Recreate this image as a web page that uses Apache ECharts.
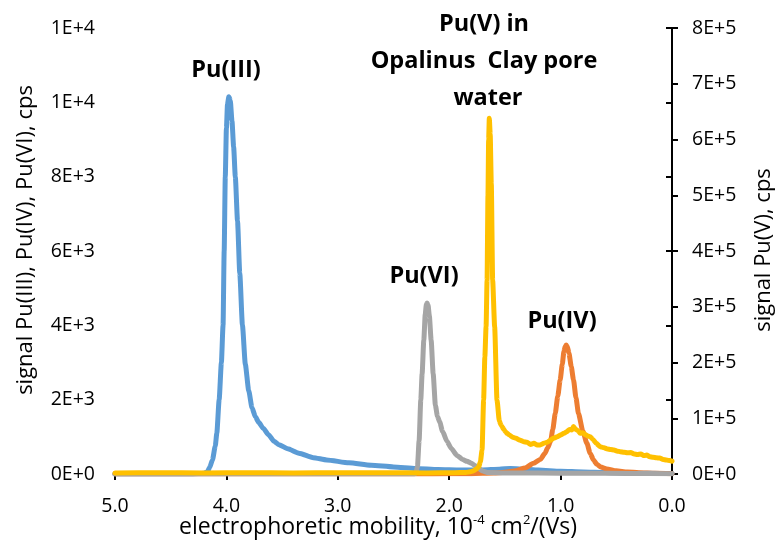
<!DOCTYPE html>
<html>
<head>
<meta charset="utf-8">
<script src="https://cdn.jsdelivr.net/npm/echarts@6/dist/echarts.min.js"></script>
<style>
  html, body { margin: 0; padding: 0; background: #fff; }
  #chart { width: 779px; height: 545px; }
</style>
</head>
<body>
<div id="chart"></div>
<script>
// electrophoretic mobility (10^-4 cm2/(Vs)) and signal (cps) per species
let mobIII = [5.0, 4.5, 4.3, 4.2, 4.17, 4.15, 4.125, 4.1, 4.086, 4.065, 4.045, 4.03, 4.02, 4.01, 4.0, 3.99, 3.978, 3.965, 3.95, 3.935,
    3.92, 3.9, 3.88, 3.856, 3.83, 3.8, 3.77, 3.74, 3.71, 3.67, 3.62, 3.573, 3.53, 3.45, 3.35, 3.22, 3.1, 2.9, 2.7, 2.5,
    2.3, 2.1, 1.9, 1.7, 1.55, 1.45, 1.35, 1.2, 1.0, 0.8, 0.6, 0.4, 0.2, 0.0];
let sigIII = [0, 0, 0, 20, 60, 180, 380, 750, 1100, 2000, 3000, 4000, 6000, 8000, 9300, 9950, 10150, 10050, 9500, 8800,
    8000, 6800, 5400, 4000, 2950, 2250, 1780, 1540, 1390, 1230, 1050, 880, 790, 680, 560, 440, 380, 300, 235, 190,
    150, 120, 105, 110, 130, 150, 135, 105, 75, 55, 40, 28, 18, 12];

let mobIV = [5.0, 2.3, 2.0, 1.8, 1.6, 1.5, 1.4, 1.32, 1.243, 1.18, 1.14, 1.117, 1.09, 1.07, 1.048, 1.025, 1.004, 0.985, 0.97, 0.958,
    0.95, 0.94, 0.925, 0.905, 0.884, 0.862, 0.84, 0.80, 0.764, 0.735, 0.705, 0.675, 0.64, 0.585, 0.5, 0.4, 0.3, 0.15, 0.0];
let sigIV = [0, 0, 5, 10, 25, 45, 90, 160, 288, 400, 560, 700, 880, 1200, 1634, 2100, 2530, 2950, 3300, 3440,
    3470, 3430, 3250, 2900, 2530, 2050, 1634, 1150, 826, 560, 380, 260, 190, 135, 85, 55, 35, 20, 10];

let mobVI = [5.0, 3.0, 2.4, 2.32, 2.3, 2.285, 2.27, 2.255, 2.243, 2.228, 2.215, 2.205, 2.198, 2.19, 2.178, 2.162, 2.144, 2.124, 2.105, 2.085,
    2.06, 2.02, 1.98, 1.93, 1.88, 1.84, 1.80, 1.77, 1.74, 1.70, 1.65, 1.5, 1.2, 0.8, 0.4, 0.0];
let sigVI = [0, 0, 0, 0, 20, 200, 900, 2000, 2700, 3600, 4300, 4560, 4600, 4550, 4250, 3600, 2700, 1850, 1550, 1400,
    1150, 880, 680, 500, 390, 340, 290, 230, 160, 80, 40, 30, 25, 20, 15, 10];

let mobV = [5.0, 4.6, 4.2, 3.8, 3.4, 3.0, 2.6, 2.2, 1.95, 1.85, 1.81, 1.78, 1.755, 1.735, 1.72, 1.705, 1.691, 1.68, 1.669, 1.66,
    1.652, 1.646, 1.64, 1.632, 1.622, 1.61, 1.592, 1.571, 1.55, 1.535, 1.526, 1.51, 1.495, 1.481, 1.46, 1.43, 1.40, 1.37, 1.332, 1.30,
    1.27, 1.24, 1.21, 1.183, 1.15, 1.12, 1.09, 1.063, 1.03, 1.0, 0.97, 0.944, 0.92, 0.9, 0.884, 0.865, 0.845, 0.824, 0.80, 0.78,
    0.755, 0.735, 0.71, 0.68, 0.645, 0.61, 0.58, 0.55, 0.52, 0.49, 0.466, 0.43, 0.40, 0.37, 0.34, 0.31, 0.28, 0.25, 0.227, 0.2,
    0.17, 0.14, 0.11, 0.08, 0.05, 0.018, 0.0];
let sigV = [2000, 2300, 1900, 2200, 2000, 2300, 2100, 2000, 2300, 2800, 4000, 6000, 9000, 13000, 22000, 43000, 132700, 210000, 264000, 348000,
    500000, 600000, 638000, 610000, 520000, 348000, 264000, 132700, 95000, 88000, 85000, 80000, 76000, 73000, 70000, 66000, 64000, 61000, 58000, 57000,
    53000, 55000, 52000, 52000, 55000, 57000, 61000, 64000, 67000, 70000, 73000, 76000, 80000, 79000, 85000, 80000, 78000, 73000, 74000, 71000,
    68000, 67000, 62000, 55000, 49000, 47000, 45000, 44000, 43000, 41000, 40000, 39000, 38000, 38500, 36000, 35000, 36000, 33000, 34000, 31000,
    30000, 29000, 28500, 26000, 25000, 24000, 23000];

let xTicks = [0, 1, 2, 3, 4, 5];

function pairs(xs, ys) {
    return xs.map((x, i) => [x, ys[i]]);
}

// Excel "0E+0" number format
function sci(v) {
    if (v === 0) return '0E+0';
    let e = Math.floor(Math.log10(v) + 1e-9);
    let m = Math.round(v / Math.pow(10, e));
    if (m >= 10) { m = 1; e++; }
    return m + 'E+' + e;
}

const FONT = '"Open Sans", "Liberation Sans", sans-serif';
const axisLine = { show: true, lineStyle: { color: '#000', width: 2 } };
const axisTick = { show: true, inside: false, length: 6, lineStyle: { color: '#000', width: 2 } };
const tickLabel = { color: '#000', fontSize: 19.5, fontFamily: FONT };
const BOLD = 'bold 23.5px ' + FONT;
const TITLE = '22px ' + FONT;

function lineSeries(name, data, color, yIndex) {
    return {
        name: name,
        type: 'line',
        yAxisIndex: yIndex,
        data: data,
        showSymbol: false,
        symbol: 'none',
        smooth: 0.2,
        smoothMonotone: 'x',
        lineStyle: { color: color, width: 5, join: 'round', cap: 'round' },
        animation: false
    };
}

function label(text, x, y) {
    return { type: 'text', x: x, y: y, style: { text: text, font: BOLD, fill: '#000', textAlign: 'center', textVerticalAlign: 'middle' } };
}

let chart = echarts.init(document.getElementById('chart'));
let option = {
    backgroundColor: '#fff',
    animation: false,
    grid: { left: 115, right: 107, top: 28, bottom: 71, containLabel: false },
    xAxis: {
        type: 'value',
        min: xTicks[0],
        max: xTicks[xTicks.length - 1],
        interval: 1,
        inverse: true,
        axisLine: axisLine,
        axisTick: axisTick,
        splitLine: { show: false },
        axisLabel: Object.assign({ margin: 22, formatter: v => v.toFixed(1) }, tickLabel)
    },
    yAxis: [{
        type: 'value',
        position: 'left',
        min: 0,
        max: 12000,
        interval: 2000,
        axisLine: axisLine,
        axisTick: axisTick,
        splitLine: { show: false },
        axisLabel: Object.assign({ margin: 20, formatter: sci }, tickLabel)
    }, {
        type: 'value',
        position: 'right',
        min: 0,
        max: 800000,
        interval: 100000,
        axisLine: axisLine,
        axisTick: axisTick,
        splitLine: { show: false },
        axisLabel: Object.assign({ margin: 20, formatter: sci }, tickLabel)
    }],
    series: [
        lineSeries('Pu(III)', pairs(mobIII, sigIII), '#5B9BD5', 0),
        lineSeries('Pu(IV)', pairs(mobIV, sigIV), '#ED7D31', 0),
        lineSeries('Pu(VI)', pairs(mobVI, sigVI), '#A5A5A5', 0),
        lineSeries('Pu(V)', pairs(mobV, sigV), '#FFC000', 1)
    ],
    graphic: [
        label('Pu(III)', 226, 70),
        label('Pu(VI)', 424, 276),
        label('Pu(IV)', 562, 321),
        label('Pu(V) in', 484, 24),
        label('Opalinus  Clay pore', 484, 61),
        label('water', 488, 98),
        {
            type: 'text', x: 378, y: 527,
            style: {
                text: 'electrophoretic mobility, 10{sup|-4} cm{sup|2}/(Vs)',
                font: '23px ' + FONT, fill: '#000', textAlign: 'center', textVerticalAlign: 'middle',
                rich: {
                    sup: { fontSize: 13, fontFamily: FONT, fill: '#000', verticalAlign: 'top', lineHeight: 26 }
                }
            }
        },
        { type: 'text', x: 26, y: 240, rotation: Math.PI / 2, style: { text: 'signal Pu(III), Pu(IV), Pu(VI), cps', font: TITLE, fill: '#000', textAlign: 'center', textVerticalAlign: 'middle' } },
        { type: 'text', x: 764, y: 250, rotation: Math.PI / 2, style: { text: 'signal Pu(V), cps', font: TITLE, fill: '#000', textAlign: 'center', textVerticalAlign: 'middle' } }
    ]
};
option && chart.setOption(option);
</script>
</body>
</html>
